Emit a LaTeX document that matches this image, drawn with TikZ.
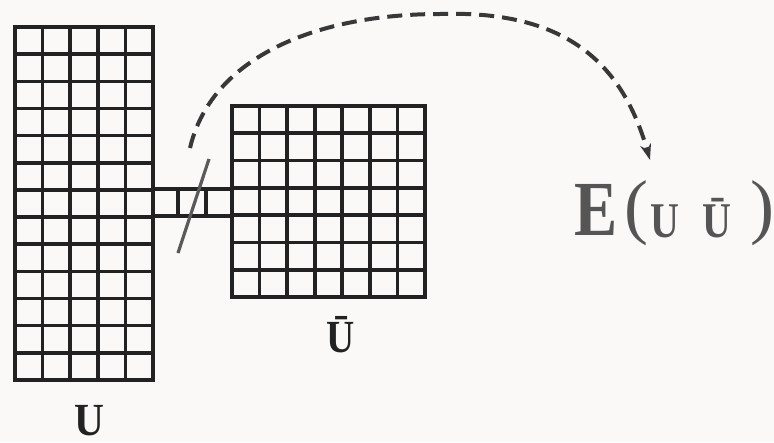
\documentclass[tikz,border=0pt]{standalone}
\usepackage{fontspec}
\usepackage{graphicx}
\setmainfont{Liberation Serif}
\usetikzlibrary{arrows.meta}
\definecolor{bg}{HTML}{FBF9F8}
\definecolor{ink}{HTML}{222222}
\definecolor{greyink}{HTML}{5A5A5A}
\definecolor{textgrey}{HTML}{555555}
\begin{document}
\begin{tikzpicture}[x=1pt,y=-1pt,
  gridline/.style={draw=ink,line width=3.6pt},
  gridbox/.style={draw=ink,line width=3.6pt,inner sep=0pt,outer sep=0pt,anchor=north west},
  biglab/.style={text=ink,inner sep=0pt,anchor=base,font=\fontsize{46}{46}\selectfont\bfseries},
  elab/.style={text=textgrey,inner sep=0pt,anchor=base},
  cutmark/.style={draw=greyink,line width=3.2pt},
  flow/.style={draw=ink!90,line width=4pt,dash pattern=on 15pt off 8pt,-{Stealth[length=16pt,width=11pt]}}]
\fill[bg] (0,0) rectangle (774,442);
\useasboundingbox (0,0) rectangle (774,442);
% grid U
\node[gridbox,minimum width=138pt,minimum height=353pt] (U) at (15,27) {};
\foreach \i in {1,...,4} \draw[gridline] (15+\i*27.6,27) -- (15+\i*27.6,380);
\foreach \j in {1,...,12} \draw[gridline] (15,27+\j*27.15) -- (153,27+\j*27.15);
% grid Ubar
\node[gridbox,minimum width=193pt,minimum height=191pt] (Ub) at (232,106) {};
\foreach \i in {1,...,6} \draw[gridline] (232+\i*27.57,106) -- (232+\i*27.57,297);
\foreach \j in {1,...,6} \draw[gridline] (232,106+\j*27.29) -- (425,106+\j*27.29);
% connecting strip
\node[gridbox,minimum width=79pt,minimum height=27pt] (S) at (153,189) {};
\draw[gridline] (178,189) -- (178,216);
\draw[gridline] (206,189) -- (206,216);
% cut mark
\coordinate (c1) at (178,253);
\coordinate (c2) at (209,159);
\draw[cutmark] (c1) -- (c2);
% labels
\node[biglab] (Ulab) at (89,435) {\scalebox{0.9}[1]{U}};
\node[biglab] (Ublab) at (341,352) {\scalebox{0.85}[1]{Ū}};
% E(U Ubar)
\node[elab,font=\fontsize{78}{78}\selectfont\bfseries] (E) at (596,235) {\scalebox{0.83}[1]{E}};
\node[elab,font=\fontsize{72}{72}\selectfont] (lp) at (636,230) {(};
\node[elab,font=\fontsize{50}{50}\selectfont\bfseries] (u1) at (665,237) {\scalebox{0.8}[1]{U}};
\node[elab,font=\fontsize{50}{50}\selectfont\bfseries] (u2) at (717,237) {\scalebox{0.8}[1]{Ū}};
\node[elab,font=\fontsize{72}{72}\selectfont] (rp) at (762,230) {)};
% dashed arrow
\coordinate (src) at (190,148);
\coordinate (tgt) at (650,160);
\draw[flow] (src) .. controls (212,55) and (320,14) .. (440,14)
  .. controls (565,10) and (622,62) .. (tgt);
\end{tikzpicture}
\end{document}
